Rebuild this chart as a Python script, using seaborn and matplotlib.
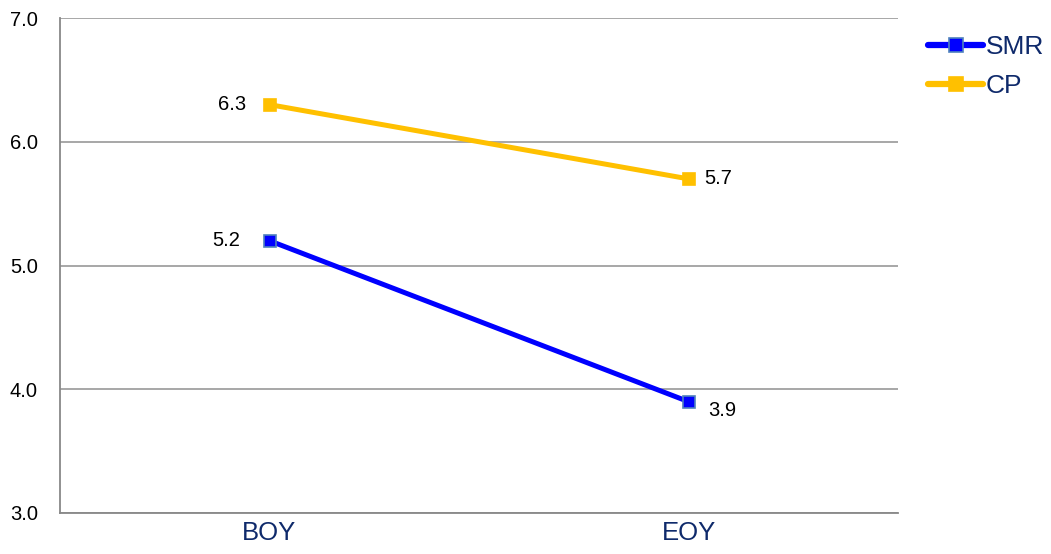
import pandas as pd
import seaborn as sns
import matplotlib.pyplot as plt

periods = ['BOY', 'EOY']
smr_scores = [5.2, 3.9]
cp_scores = [6.3, 5.7]
series_names = ['SMR', 'CP']

df = pd.DataFrame({
    'period': periods * 2,
    'score': smr_scores + cp_scores,
    'series': [series_names[0]] * 2 + [series_names[1]] * 2,
})

sns.set_style('white')
plt.rcParams['font.family'] = ['Liberation Sans', 'DejaVu Sans']
plt.rcParams['text.color'] = 'black'
plt.rcParams['ytick.color'] = 'black'

fig = plt.figure(figsize=(10.51, 5.54), dpi=100)
ax = fig.add_axes([60 / 1051, 1 - 513 / 554, 838 / 1051, 495 / 554])

colors = {'SMR': '#0000ff', 'CP': '#ffc000'}
edges = {'SMR': '#4f81bd', 'CP': '#ffc000'}

for name in series_names:
    sub = df[df['series'] == name]
    sns.lineplot(data=sub, x='period', y='score', ax=ax, color=colors[name],
                 linewidth=3.6, marker='s', markersize=8.5,
                 markeredgecolor=edges[name], markeredgewidth=1.2,
                 label=name, zorder=3)

# data labels
lbl = dict(fontsize=14.5, color='black')
ax.text(0 - 0.055, cp_scores[0], '6.3', ha='right', va='center', **lbl)
ax.text(0 - 0.07, smr_scores[0], '5.2', ha='right', va='center', **lbl)
ax.text(1 + 0.038, cp_scores[1], '5.7', ha='left', va='center', **lbl)
ax.text(1 + 0.048, smr_scores[1] - 0.07, '3.9', ha='left', va='center', **lbl)

ax.set_xlim(-0.5, 1.5)
ax.set_ylim(3, 7)
ax.set_yticks([3, 4, 5, 6, 7])
ax.set_yticklabels([f'{v:.1f}' for v in [3, 4, 5, 6, 7]], fontsize=14.5, color='black')
ax.set_xticks([0, 1])
ax.set_xticklabels(periods, fontsize=18.5, color='#0f2a6b')
ax.set_xlabel('')
ax.set_ylabel('')
ax.tick_params(axis='y', length=0, pad=16)
ax.tick_params(axis='x', length=0, pad=6)

ax.yaxis.grid(True, color='#a0a0a0', linewidth=1.3)
ax.set_axisbelow(True)
for s in ['top', 'right']:
    ax.spines[s].set_visible(False)
for s in ['left', 'bottom']:
    ax.spines[s].set_color('#888888')
    ax.spines[s].set_linewidth(1.3)

leg = ax.legend(loc='upper left', bbox_to_anchor=(928 / 1051, 1 - 35 / 554),
                bbox_transform=fig.transFigure, frameon=False, fontsize=19,
                handlelength=2.1, handletextpad=0.08, labelspacing=0.56,
                borderaxespad=0, borderpad=0)
for t in leg.get_texts():
    t.set_color('#0f2a6b')
for h in leg.legend_handles:
    h.set_linewidth(4.5)
    h.set_markersize(10)

fig.savefig('out.png', dpi=100)
